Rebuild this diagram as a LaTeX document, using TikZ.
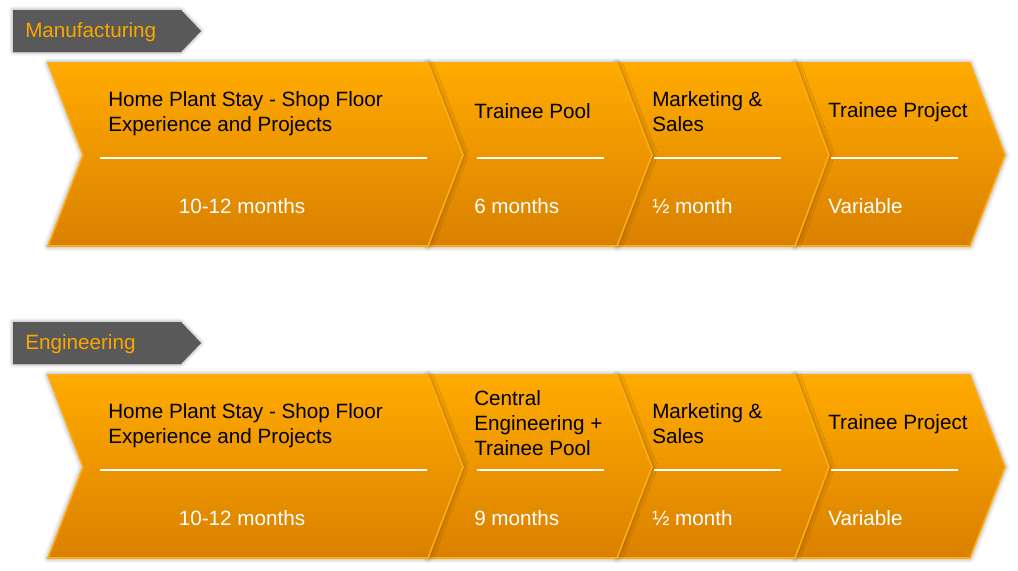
\documentclass[tikz,border=0pt]{standalone}
\usepackage{fontspec}
\setmainfont{Liberation Sans}
\usepackage{xcolor}
\usepackage{tikz}
\usetikzlibrary{positioning,shadows.blur}

\begin{document}
\begin{tikzpicture}[x=0.75pt,y=0.75pt,yscale=-1,xscale=1,
	chev/.style={top color={rgb,255:red,255;green,171;blue,0},bottom color={rgb,255:red,218;green,128;blue,0},
		draw={rgb,255:red,255;green,172;blue,20},line width=1.2,line join=miter,
		blur shadow={shadow xshift=0pt,shadow yshift=0pt,shadow blur radius=4pt,shadow blur steps=8,shadow opacity=45}},
	tag/.style={fill={rgb,255:red,89;green,89;blue,89},
		blur shadow={shadow xshift=0pt,shadow yshift=0pt,shadow blur radius=3pt,shadow blur steps=6,shadow opacity=40}},
	tagtext/.style={anchor=west,inner sep=0pt,text={rgb,255:red,250;green,166;blue,0},font=\fontsize{15.5}{18.75}\selectfont},
	toptext/.style={anchor=west,inner sep=0pt,align=left,text=black,font=\fontsize{15.5}{18.75}\selectfont},
	durtext/.style={anchor=west,inner sep=0pt,text=white,font=\fontsize{15.5}{18.75}\selectfont},
	sep/.style={draw=white,line width=0.9}]
		%set diagram size to the reference
		\useasboundingbox (0,0) rectangle (1018,571);
		
		%Manufacturing row, chevrons drawn from right to left
		\draw [chev] (795,63) -- (970,63) -- (1005,155) -- (970,246) -- (795,246) -- (829,155) -- cycle ;
		\draw [chev] (617,63) -- (795,63) -- (829,155) -- (795,246) -- (617,246) -- (652,155) -- cycle ;
		\draw [chev] (428,63) -- (617,63) -- (652,155) -- (617,246) -- (428,246) -- (463,155) -- cycle ;
		\draw [chev] (48,63) -- (428,63) -- (463,155) -- (428,246) -- (48,246) -- (83,155) -- cycle ;
		%Tag
		\fill [tag] (13,10) -- (181,10) -- (201,31) -- (181,52) -- (13,52) -- cycle ;
		\node [tagtext] (mtag) at (25,32) {Manufacturing};
		
		%Separator lines
		\draw [sep] (100,158) -- (427,158) ;
		\draw [sep] (477,158) -- (604,158) ;
		\draw [sep] (654,158) -- (781,158) ;
		\draw [sep] (831,158) -- (958,158) ;
		
		% Text Node
		\node [toptext] (mstay) at (108,113.5) {Home Plant Stay - Shop Floor\\Experience and Projects};
		\node [toptext] (mpool) at (474,111) {Trainee Pool};
		\node [toptext] (msales) at (652,112) {Marketing \&\\Sales};
		\node [toptext] (mproj) at (828,112) {Trainee Project};
		\node [durtext,anchor=center] (mstaydur) at (242,206) {10-12 months};
		\node [durtext] (mpooldur) at (474,206) {6 months};
		\node [durtext] (msalesdur) at (652,206) {½ month};
		\node [durtext] (mprojdur) at (828,206) {Variable};
		
		%Engineering row, chevrons drawn from right to left
		\draw [chev] (795,375) -- (970,375) -- (1005,467) -- (970,558) -- (795,558) -- (829,467) -- cycle ;
		\draw [chev] (617,375) -- (795,375) -- (829,467) -- (795,558) -- (617,558) -- (652,467) -- cycle ;
		\draw [chev] (428,375) -- (617,375) -- (652,467) -- (617,558) -- (428,558) -- (463,467) -- cycle ;
		\draw [chev] (48,375) -- (428,375) -- (463,467) -- (428,558) -- (48,558) -- (83,467) -- cycle ;
		%Tag
		\fill [tag] (13,322) -- (181,322) -- (201,343) -- (181,364) -- (13,364) -- cycle ;
		\node [tagtext] (etag) at (25,344) {Engineering};
		
		%Separator lines
		\draw [sep] (100,470) -- (427,470) ;
		\draw [sep] (477,470) -- (604,470) ;
		\draw [sep] (654,470) -- (781,470) ;
		\draw [sep] (831,470) -- (958,470) ;
		
		% Text Node
		\node [toptext] (estay) at (108,425.5) {Home Plant Stay - Shop Floor\\Experience and Projects};
		\node [toptext] (epool) at (474,423) {Central\\Engineering +\\Trainee Pool};
		\node [toptext] (esales) at (652,424) {Marketing \&\\Sales};
		\node [toptext] (eproj) at (828,424) {Trainee Project};
		\node [durtext,anchor=center] (estaydur) at (242,518) {10-12 months};
		\node [durtext] (epooldur) at (474,518) {9 months};
		\node [durtext] (esalesdur) at (652,518) {½ month};
		\node [durtext] (eprojdur) at (828,518) {Variable};
		
\end{tikzpicture}
\end{document}
